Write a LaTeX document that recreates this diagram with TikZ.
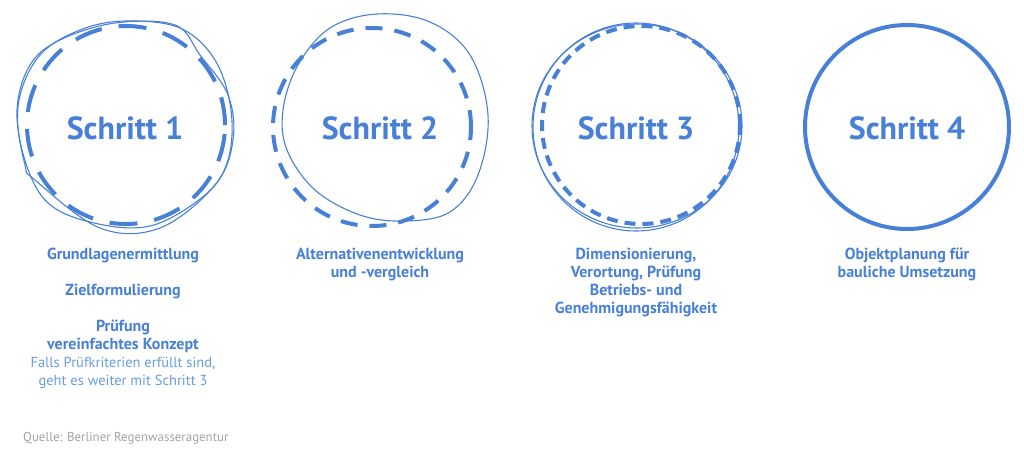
\documentclass[tikz,border=0pt]{standalone}
\usepackage{fontspec}
\setmainfont{PT Sans}
\definecolor{bl}{HTML}{4780D6}
\definecolor{lbl}{HTML}{6A9BE2}
\definecolor{gr}{HTML}{A3A3A3}
\begin{document}
\begin{tikzpicture}[x=1pt,y=-1pt,
  title/.style={font=\bfseries\fontsize{32}{32}\selectfont, text=bl},
  label/.style={font=\bfseries\fontsize{16}{18}\selectfont, text=bl, align=center, anchor=north, inner sep=0pt},
  thin/.style={draw=bl, line width=1.1pt},
  ring/.style={circle, draw=bl, line width=4pt, inner sep=0pt}]
\useasboundingbox (0,0) rectangle (1024,458);
% circle 1
\node[ring, minimum size=198, dash pattern=on 28 off 17] (c1) at (126,125) {};
\draw[thin] plot[smooth cycle, tension=0.6] coordinates {(125,21) (180,28) (215,60) (231,110) (228,160) (205,195) (150,226) (90,222) (45,200) (22,150) (19,100) (40,55) (80,30)};
\draw[thin] plot[smooth cycle, tension=0.6] coordinates {(115,23) (175,25) (200,55) (228,95) (233,140) (215,185) (160,228) (100,228) (35,180) (25,165) (17,110) (30,65) (60,40)};
\node[title] (t1) at (125,128) {Schritt 1};
% circle 2
\node[ring, minimum size=198, dash pattern=on 17 off 12] (c2) at (372,127) {};
\draw[thin] plot[smooth cycle, tension=0.6] coordinates {(377,14) (430,22) (470,55) (488,115) (478,175) (450,212) (405,221) (360,215) (315,190) (287,150) (283,110) (298,65) (330,28)};
\node[title] (t2) at (380,128) {Schritt 2};
% circle 3
\node[ring, minimum size=198, dash pattern=on 11 off 7] (c3) at (641,125) {};
\draw[thin] (636,127) ellipse (103 and 104);
\draw[thin] (637,126) ellipse (105 and 102);
\node[title] (t3) at (636,128) {Schritt 3};
% circle 4
\node[ring, minimum size=204] (c4) at (907,127) {};
\node[title] (t4) at (907,128) {Schritt 4};
% labels
\node[label] (l1) at (123,248) {Grundlagenermittlung\\[18pt]Zielformulierung\\[18pt]Prüfung\\vereinfachtes Konzept\\
  {\mdseries\fontsize{14.5}{18}\selectfont\color{lbl}Falls Prüfkriterien erfüllt sind,}\\{\mdseries\fontsize{14.5}{18}\selectfont\color{lbl}geht es weiter mit Schritt 3}};
\node[label] (l2) at (380,248) {Alternativenentwicklung\\und -vergleich};
\node[label] (l3) at (636,248) {Dimensionierung,\\Verortung, Prüfung\\Betriebs- und\\Genehmigungsfähigkeit};
\node[label] (l4) at (907,248) {Objektplanung für\\bauliche Umsetzung};
\node[font=\fontsize{12.9}{14}\selectfont, text=gr, anchor=west, inner sep=0pt] (src) at (23,438) {Quelle: Berliner Regenwasseragentur};
\end{tikzpicture}
\end{document}
